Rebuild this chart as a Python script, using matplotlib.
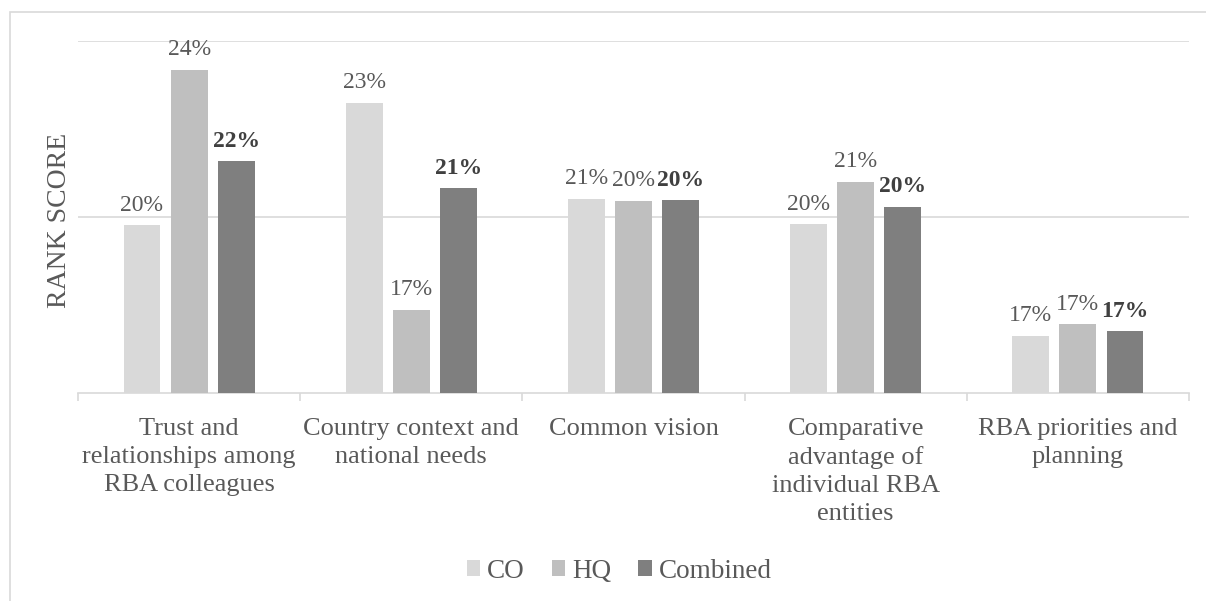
import numpy as np
import matplotlib.pyplot as plt
from matplotlib.patches import Rectangle

categories = ['Trust and\nrelationships among\nRBA colleagues',
              'Country context and\nnational needs',
              'Common vision',
              'Comparative\nadvantage of\nindividual RBA\nentities',
              'RBA priorities and\nplanning']
co = [0.1976, 0.2324, 0.2051, 0.1979, 0.1661]
hq = [0.2417, 0.1735, 0.2045, 0.2099, 0.1695]
combined = [0.2158, 0.2081, 0.2047, 0.2028, 0.1675]
series_names = ['CO', 'HQ', 'Combined']
colors = ['#d9d9d9', '#bfbfbf', '#7f7f7f']

plt.rcParams['font.family'] = ['Liberation Serif', 'DejaVu Serif']
txt = '#595959'

fig = plt.figure(figsize=(12.06, 6.01), dpi=100)
ax = fig.add_axes([78/1206, 1-393/601, (1189-78)/1206, (393-41)/601])

x = np.arange(len(categories))
w = 0.166
step = 0.212
for k, (vals, name, c) in enumerate(zip([co, hq, combined], series_names, colors)):
    pos = x + (k - 1)*step
    ax.bar(pos, np.array(vals) - 0.15, bottom=0.15, width=w, color=c, label=name, zorder=3)
    for p, v in zip(pos, vals):
        ax.text(p, v + 0.0028, f"{v*100:.0f}%", ha='center', va='bottom', fontsize=17,
                color='#404040' if k == 2 else txt, fontweight='bold' if k == 2 else 'normal',
                clip_on=False)

ax.set_xlim(-0.5, len(categories) - 0.5)
ax.set_ylim(0.15, 0.25)
ax.set_yticks([0.20, 0.25])
ax.set_yticklabels([])
ax.tick_params(axis='y', length=0)
ax.yaxis.grid(True, color='#d9d9d9', linewidth=1.2, zorder=0)
for s in ['top', 'right', 'left']:
    ax.spines[s].set_visible(False)
ax.spines['bottom'].set_color('#d9d9d9')
ax.spines['bottom'].set_linewidth(1.2)

# category labels and boundary ticks
ax.set_xticks(np.arange(-0.5, len(categories)), minor=False)
ax.set_xticklabels([])
ax.tick_params(axis='x', length=6, color='#d9d9d9', width=1.2)
for i, lab in enumerate(categories):
    ax.text(i, 0.15 - 0.007, lab, ha='center', va='top', fontsize=19, color=txt,
            linespacing=1.36, clip_on=False)

ax.set_ylabel('RANK SCORE', fontsize=20, color=txt, labelpad=1)
ax.yaxis.set_label_coords(-0.005, 0.49)

leg = fig.legend(loc='center', bbox_to_anchor=(619/1206, 1-571/601), ncol=3, frameon=False,
                 fontsize=19.5, handlelength=0.5, handleheight=0.5, handletextpad=0.25,
                 columnspacing=1.0, labelcolor=txt)

fig.patches.append(Rectangle((10/1206, -0.05), 1.1, 1 - 12/601 + 0.05, transform=fig.transFigure,
                             fill=False, edgecolor='#d9d9d9', linewidth=1.2))

fig.savefig('out.png', dpi=100)
